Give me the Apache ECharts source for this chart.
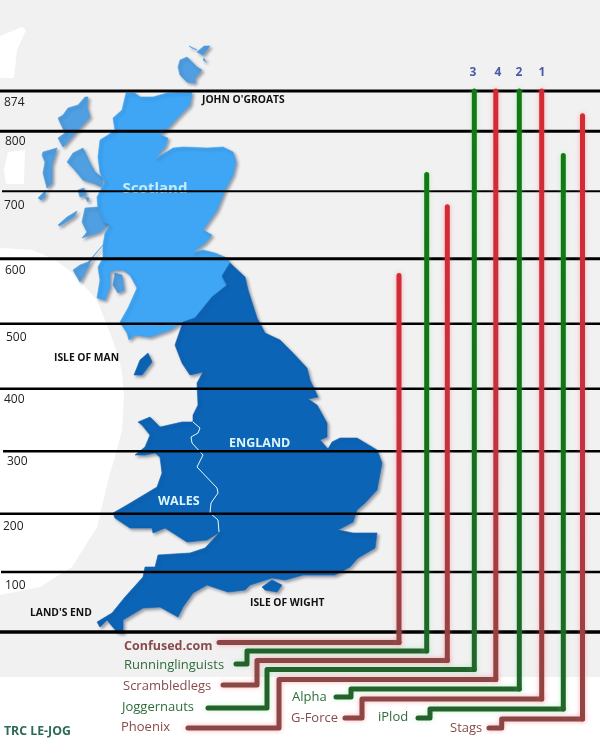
<!DOCTYPE html>
<html><head><meta charset="utf-8">
<style>html,body{margin:0;padding:0;background:#fff}#c{width:600px;height:748px}</style>
<script src="https://cdn.jsdelivr.net/npm/echarts@6/dist/echarts.min.js"></script>
</head><body><div id="c"></div>
<script>
// ---- data
const teams = ['Confused.com','Runninglinguists','Scrambledlegs','Joggernauts','Phoenix','Alpha','G-Force','iPlod','Stags'];
const miles = [576,739,687,874,874,874,874,770,834];
const ranks = ['','','','3','4','2','1','',''];
const sides = ['r','g','r','g','r','g','r','g','r'];
const tickLabels = ['874','800','700','600','500','400','300','200','100'];
// hand-drawn rule heights, in axis units on the picture's own 0-874 scale
const ruleValues = [874,809,712,603,498,393,292,191,97,0];

// ---- layout, kept apart from data
const barX   = [399,426.7,447.3,474.3,495.8,519.3,541.7,563.3,582.5];
const bendY  = [642.5,651,660.5,669.5,679.5,689,699,709,719];
const elbowX = [null,247,257,267,279,351,362,430,501.7];
const endY   = [642.5,664,685,708,728,697,718,718,728];
const endX   = [219,236,223,208,188,336,345,418,489];
const labelX = [124,124,123,122,121,292,291,378,450];
const labelY = [646,665,686,707,727,697,718,717,728];
const rankX  = [0,0,0,473,498,519,542,0,0];
const ruleWidth = [3,3.2,2,3,2.6,2.4,2.4,2.6,2.4,3.6];
const ruleLeft  = [0,0,2,0,0,0,3,0,1,0];
const tickY = [103,142,206,271,338,400,462,527,586];
const tickX = [4,5,4,5,6,4,7,3,5];

const BLUE_L='#3fa6f6', BLUE_I='#4f9fe2', BLUE_D='#0c64b6';
const scotland=[[126,93],[135,93],[140,97],[153,97],[167,93],[192,92],[190,105],[180,115],[168,128],[160,135],[168,138],[165,147],[155,159],[173,148],[183,147],[207,148],[223,147],[233,152],[236,162],[233,175],[225,190],[217,210],[203,230],[212,235],[205,243],[192,253],[203,250],[215,253],[227,258],[230,263],[222,276],[227,285],[212,297],[195,318],[183,322],[170,330],[150,337],[135,335],[129,340],[127,333],[120,322],[128,308],[137,288],[130,275],[123,270],[115,270],[110,272],[110,287],[105,300],[97,298],[100,280],[98,267],[103,258],[103,245],[105,233],[110,225],[104,222],[98,208],[97,197],[105,182],[100,173],[98,157],[100,140],[108,135],[115,130],[113,118],[122,110]];
const englandWales=[[230,263],[245,277],[248,290],[257,318],[265,333],[280,340],[292,352],[307,368],[310,380],[318,397],[308,399],[317,405],[327,423],[327,437],[320,440],[328,449],[332,442],[340,438],[357,438],[377,450],[382,463],[377,490],[365,503],[357,510],[353,522],[338,530],[353,533],[377,533],[375,548],[358,558],[350,567],[335,575],[303,575],[285,580],[272,578],[250,585],[245,590],[228,592],[207,585],[193,593],[183,607],[178,617],[160,607],[143,608],[123,620],[123,633],[117,632],[107,620],[100,627],[97,622],[112,613],[125,597],[143,577],[145,567],[155,567],[158,555],[190,553],[205,548],[220,532],[207,540],[187,542],[173,533],[165,528],[153,533],[152,528],[130,528],[115,518],[113,513],[127,505],[152,490],[157,487],[162,473],[160,457],[155,453],[145,455],[135,455],[145,447],[150,435],[142,425],[138,422],[150,417],[160,427],[182,422],[193,422],[193,415],[198,405],[197,383],[203,372],[190,375],[182,363],[175,345],[183,322],[195,318],[212,297],[227,285],[222,276]];
const border=[[193,422],[200,428],[198,433],[191,437],[192,443],[203,455],[197,467],[217,488],[218,493],[211,503],[210,513],[218,520],[219,532]];
const isles=[
 [[88,97],[87,107],[90,117],[75,133],[63,147],[58,138],[65,133],[58,118],[63,115],[68,108],[78,105],[85,97]],
 [[43,152],[57,148],[55,155],[52,165],[52,183],[47,188],[43,173],[45,162],[42,155]],
 [[38,198],[46,190],[45,197],[41,200]],
 [[73,153],[83,148],[90,163],[95,172],[103,178],[102,187],[93,183],[83,180],[73,168],[67,162]],
 [[78,190],[84,188],[86,195],[80,197]],[[85,197],[89,198],[88,202]],
 [[85,208],[98,207],[104,216],[110,223],[100,232],[82,238],[87,232],[82,222]],
 [[58,225],[67,217],[77,211],[75,216],[66,222],[60,226]],
 [[103,245],[93,257],[88,267],[80,282],[73,270],[80,265],[88,262]],
 [[115,273],[122,275],[124,290],[118,293],[113,285]],
 [[180,60],[187,57],[197,67],[202,70],[195,78],[195,83],[187,82],[180,75],[178,67]],
 [[189,46],[197,50],[192,48]],[[197,52],[204,46],[210,46],[203,55]],[[204,58],[206,62],[203,60]]
];
const man=[[148,353],[152,362],[142,375],[134,375],[140,360]];
const wight=[[262,587],[272,580],[282,585],[277,592],[265,590]];
const blob1=[[0,36],[22,27],[26,30],[17,50],[14,78],[0,78]];
const blob2=[[8,152],[25,150],[24,184],[6,184],[4,170]];
const blobLeft=[[0,248],[33,250],[55,260],[73,273],[97,300],[110,333],[118,355],[122,373],[124,397],[122,430],[115,457],[110,473],[97,527],[72,567],[40,587],[0,595]];

const shadow={shadowBlur:3,shadowOffsetX:2,shadowOffsetY:2,shadowColor:'rgba(40,50,70,.45)'};
const poly=(pts,fill)=>({type:'polygon',shape:{points:pts},style:Object.assign({fill,stroke:fill,lineWidth:.6,lineJoin:'round'},shadow)});
const words=(x,y,text,font,fill,extra)=>({type:'text',x,y,style:Object.assign({text,font,fill,verticalAlign:'middle'},extra||{})});

const SANS='"Open Sans","Noto Sans",sans-serif';
const bg=[
 {type:'rect',shape:{x:0,y:0,width:600,height:677},style:{fill:'#f1f1f2'}},
 {type:'polygon',shape:{points:blob1},style:{fill:'#fff'}},
 {type:'polygon',shape:{points:blob2},style:{fill:'#fff'}},
 {type:'polygon',shape:{points:blobLeft},style:{fill:'#fff'}},
 ...isles.map(p=>poly(p,BLUE_I)),
 poly(scotland,BLUE_L),poly(englandWales,BLUE_D),poly(man,BLUE_D),poly(wight,BLUE_D),
 {type:'polyline',shape:{points:border},style:{stroke:'#e6fbf6',lineWidth:1,fill:null}},
 words(155,189,'Scotland','bold 15px '+SANS,'#c4ecfb',{align:'center',shadowBlur:3,shadowColor:'rgba(255,255,255,.8)'}),
 words(229,443,'ENGLAND','bold 12.5px '+SANS,'#dcf6fb'),
 words(158,501,'WALES','bold 12.5px '+SANS,'#dcf6fb'),
 words(202,100,"JOHN O'GROATS",'bold 10.3px '+SANS,'#111'),
 words(54,358,'ISLE OF MAN','bold 10.3px '+SANS,'#111'),
 words(30,613,"LAND'S END",'bold 10.3px '+SANS,'#111'),
 words(250,603,'ISLE OF WIGHT','bold 10.3px '+SANS,'#111'),
 words(4,731,'TRC LE-JOG','bold 12.3px '+SANS,'#2b6b55')
];

const chart=echarts.init(document.getElementById('c'),null,{renderer:'canvas'});
chart.setOption({
 animation:false,
 backgroundColor:'#fff',
 graphic:{elements:bg.map(e=>Object.assign({z:0,silent:true},e))},
 grid:{left:0,right:0,top:91,bottom:116,containLabel:false},
 xAxis:{type:'value',min:0,max:600,show:false},
 yAxis:{type:'value',min:0,max:874,show:false},
 series:[
  {type:'custom',name:'rules',z:3,coordinateSystem:'cartesian2d',silent:true,
   data:ruleValues.map((v,i)=>[i,v]),
   renderItem(p,api){
    const i=api.value(0), y=api.coord([0,api.value(1)])[1];
    return {type:'line',shape:{x1:ruleLeft[i],y1:y,x2:600,y2:y},style:{stroke:'#000',lineWidth:ruleWidth[i]}};
   }},
  {type:'custom',name:'ticks',z:4,coordinateSystem:'cartesian2d',silent:true,
   data:tickLabels.map((t,i)=>[i]),
   renderItem(p,api){
    const i=api.value(0);
    return {type:'text',x:tickX[i],y:tickY[i],style:{text:tickLabels[i],font:'12px '+SANS,fill:'#222',verticalAlign:'middle'}};
   }},
  {type:'custom',name:'miles',z:5,coordinateSystem:'cartesian2d',silent:true,clip:false,
   data:miles.map((m,i)=>[i,m]),
   renderItem(p,api){
    const i=api.value(0), top=api.coord([0,api.value(1)])[1], x=barX[i];
    const red=sides[i]==='r';
    const main=red?'#8a4746':'#23632b';
    const glow=red?'rgba(255,90,100,.45)':'rgba(90,220,110,.35)';
    const stops=red?[{offset:0,color:'#d42a33'},{offset:.55,color:'#c23240'},{offset:1,color:'#8f4544'}]
                   :[{offset:0,color:'#127a12'},{offset:.6,color:'#14701a'},{offset:1,color:'#22652b'}];
    const grad={type:'linear',x:0,y:top,x2:0,y2:bendY[i],global:true,colorStops:stops};
    const tail=[[x,bendY[i]]];
    if(elbowX[i]!==null){tail.push([elbowX[i],bendY[i]],[elbowX[i],endY[i]]);}
    tail.push([endX[i],endY[i]]);
    const kids=[
     {type:'polyline',z2:1,shape:{points:tail},style:{fill:null,stroke:main,lineWidth:5,lineCap:'round',lineJoin:'round',shadowBlur:5,shadowColor:glow}},
     {type:'line',z2:2,shape:{x1:x,y1:top,x2:x,y2:bendY[i]},style:{stroke:grad,lineWidth:5,lineCap:'round',shadowBlur:5,shadowColor:glow}},
     {type:'text',z2:3,x:labelX[i],y:labelY[i],style:{text:teams[i],font:(i===0?'bold 12.5px ':'13px ')+SANS,fill:red?'#8a4a4a':'#2d6d3a',verticalAlign:'middle'}}
    ];
    if(ranks[i]) kids.push({type:'text',z2:3,x:rankX[i],y:73,style:{text:ranks[i],font:'bold 12px '+SANS,fill:'#4a5aa8',align:'center',verticalAlign:'middle'}});
    return {type:'group',children:kids};
   }}
 ]
});
</script></body></html>
